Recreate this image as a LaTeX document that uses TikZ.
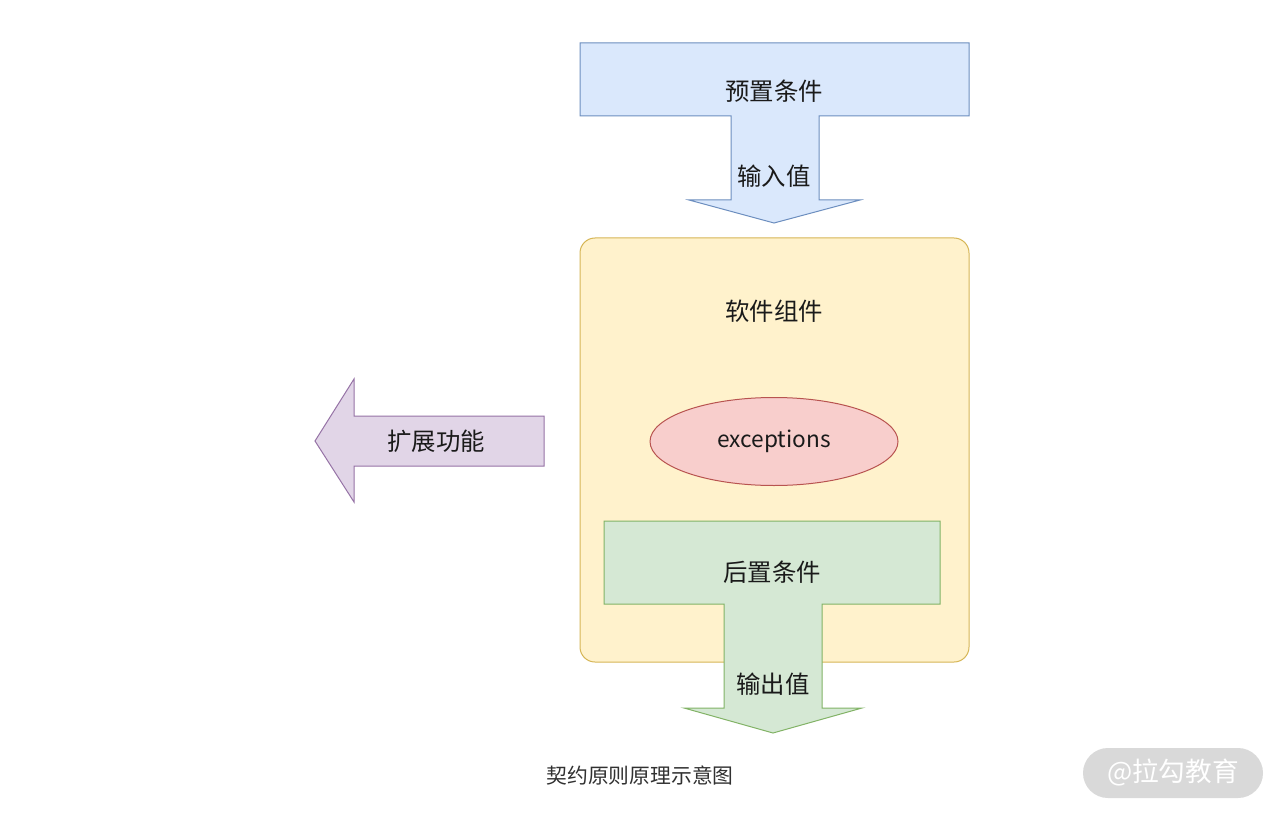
\documentclass[tikz,border=0pt]{standalone}
\usepackage{fontspec}
\setmainfont{Noto Sans CJK SC}
\usetikzlibrary{shapes.geometric}
\definecolor{bluefill}{HTML}{DAE8FC}\definecolor{bluedraw}{HTML}{6C8EBF}
\definecolor{yelfill}{HTML}{FFF2CC}\definecolor{yeldraw}{HTML}{D6B656}
\definecolor{redfill}{HTML}{F8CECC}\definecolor{reddraw}{HTML}{B85450}
\definecolor{grnfill}{HTML}{D5E8D4}\definecolor{grndraw}{HTML}{82B366}
\definecolor{purfill}{HTML}{E1D5E7}\definecolor{purdraw}{HTML}{9673A6}
\definecolor{txt}{HTML}{1A1A1A}
\definecolor{wmfill}{HTML}{D9D9D9}
\tikzset{
  lbl/.style={font=\fontsize{18.3pt}{21pt}\selectfont, text=txt, inner sep=0pt},
  shp/.style={line width=0.75pt, line join=miter},
}
\begin{document}
\begin{tikzpicture}[x=0.75pt,y=-0.75pt]
\useasboundingbox (0,0) rectangle (1280,816);
\fill[white] (0,0) rectangle (1280,816);
% top T-arrow
\draw[shp, fill=bluefill, draw=bluedraw]
  (580,43) -- (969,43) -- (969,116) -- (819,116) -- (819,200) -- (860,200) -- (774,223)
  -- (689,200) -- (731,200) -- (731,116) -- (580,116) -- cycle;
\node[lbl] (pre) at (774,91) {预置条件};
\node[lbl] (in) at (774,176) {输入值};
% component box
\draw[shp, fill=yelfill, draw=yeldraw, rounded corners=11.25pt] (580,238) rectangle (969,662);
\node[lbl] (comp) at (774,311) {软件组件};
\node[shp, ellipse, fill=redfill, draw=reddraw, minimum width=186pt, minimum height=66pt,
  font=\fontsize{17pt}{20pt}\selectfont, text=txt] (exc) at (774,441.5) {exceptions};
% bottom T-arrow
\draw[shp, fill=grnfill, draw=grndraw]
  (604,521) -- (940,521) -- (940,604) -- (822,604) -- (822,708) -- (862,708) -- (773,733)
  -- (684,708) -- (724,708) -- (724,604) -- (604,604) -- cycle;
\node[lbl] (post) at (772,572) {后置条件};
\node[lbl] (out) at (773,684) {输出值};
% left arrow
\draw[shp, fill=purfill, draw=purdraw]
  (544,416) -- (544,466) -- (354,466) -- (354,502) -- (315,441) -- (354,379) -- (354,416) -- cycle;
\node[lbl] (ext) at (436,441) {扩展功能};
% caption
\node[font=\fontsize{15.6pt}{18pt}\selectfont, text=txt!90, inner sep=0pt] (cap) at (640,776) {契约原则原理示意图};
% watermark
\fill[wmfill, rounded corners=18.75pt] (1083,748) rectangle (1263,798);
\node[font=\fontsize{20pt}{23pt}\selectfont, text=white, inner sep=0pt] (wm) at (1173,773) {@拉勾教育};
\end{tikzpicture}
\end{document}
